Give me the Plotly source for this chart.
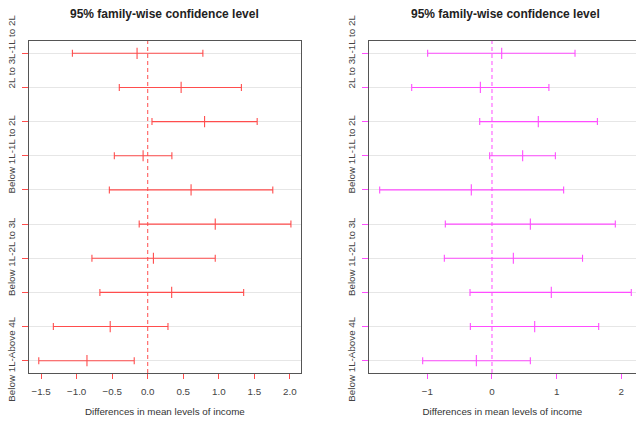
import plotly.graph_objects as go

categories = [
    "2L to 3L-1L to 2L", "3L to 4L-1L to 2L", "Above 4L-1L to 2L", "Below 1L-1L to 2L",
    "3L to 4L-2L to 3L", "Above 4L-2L to 3L", "Below 1L-2L to 3L", "Above 4L-3L to 4L",
    "Below 1L-3L to 4L", "Below 1L-Above 4L",
]
shown_labels = ["2L to 3L-1L to 2L", "Below 1L-1L to 2L", "Below 1L-2L to 3L", "Below 1L-Above 4L"]

left_diff = [-0.15, 0.47, 0.80, -0.065, 0.61, 0.95, 0.08, 0.337, -0.528, -0.855]
left_lwr = [-1.06, -0.40, 0.06, -0.47, -0.54, -0.12, -0.785, -0.673, -1.328, -1.533]
left_upr = [0.776, 1.318, 1.54, 0.34, 1.76, 2.015, 0.95, 1.35, 0.285, -0.19]

right_diff = [0.15, -0.18, 0.716, 0.474, -0.32, 0.593, 0.33, 0.917, 0.66, -0.242]
right_lwr = [-0.995, -1.242, -0.19, -0.036, -1.737, -0.722, -0.737, -0.34, -0.335, -1.072]
right_upr = [1.284, 0.88, 1.63, 0.98, 1.108, 1.907, 1.40, 2.154, 1.65, 0.593]

left_ticks = [-1.5, -1.0, -0.5, 0.0, 0.5, 1.0, 1.5, 2.0]
right_ticks = [-1, 0, 1, 2]

RED = "#ff4d4d"
MAG = "#ff4dff"
FONT = "Liberation Sans, Arial, sans-serif"
AX = 9.8

fig = go.Figure()

def add_panel(diff, lwr, upr, color, xa, ya):
    plus = [u - d for u, d in zip(upr, diff)]
    minus = [d - l for d, l in zip(diff, lwr)]
    fig.add_trace(go.Scatter(
        x=diff, y=categories, mode="markers", xaxis=xa, yaxis=ya,
        marker=dict(symbol="line-ns", size=8, line=dict(color=color, width=1.1), color=color),
        error_x=dict(type="data", array=plus, arrayminus=minus, color=color, thickness=1.1, width=3.5),
        showlegend=False, hoverinfo="skip",
    ))

add_panel(left_diff, left_lwr, left_upr, RED, "x", "y")
add_panel(right_diff, right_lwr, right_upr, MAG, "x2", "y2")

ticktext = [c if c in shown_labels else "" for c in categories]

yax_common = dict(
    type="category", categoryorder="array", categoryarray=categories,
    range=[9.36, -0.36], tickmode="array", tickvals=categories, ticktext=ticktext,
    tickangle=-90, showgrid=True, gridcolor="#e6e6e6", gridwidth=1,
    showline=True, linecolor="#555555", linewidth=1.2, zeroline=False,
    ticks="outside", ticklen=6, tickfont=dict(family=FONT, size=AX, color="#444444"),
    ticklabelstandoff=3,
)
xax_common = dict(
    showgrid=False, zeroline=False, showline=True, linecolor="#555555", linewidth=1.2,
    ticks="outside", ticklen=5, tickfont=dict(family=FONT, size=AX, color="#444444"),
    ticklabelstandoff=4,
    title=dict(text="Differences in mean levels of income", font=dict(family=FONT, size=AX, color="#333333"), standoff=12),
)

fig.update_layout(
    width=636, height=422, plot_bgcolor="white", paper_bgcolor="white",
    margin=dict(l=0, r=0, t=41, b=49),
    xaxis=dict(domain=[0.0451, 0.4733], range=[-1.675, 2.157], tickvals=left_ticks, tickformat=".1f",
               mirror=True, tickcolor=RED, anchor="y", **xax_common),
    yaxis=dict(domain=[0, 1], anchor="x", mirror=True, tickcolor=RED, **yax_common),
    xaxis2=dict(domain=[0.5797, 1.0], range=[-1.907, 2.227], tickvals=right_ticks, tickformat="d",
                mirror=True, tickcolor=MAG, anchor="y2", **xax_common),
    yaxis2=dict(domain=[0, 1], anchor="x2", mirror=False, tickcolor=MAG, **yax_common),
    shapes=[
        dict(type="line", xref="x", yref="y domain", x0=0, x1=0, y0=0, y1=1,
             line=dict(color=RED, width=1, dash="4px,3px")),
        dict(type="line", xref="x2", yref="y2 domain", x0=0, x1=0, y0=0, y1=1,
             line=dict(color=MAG, width=1, dash="4px,3px")),
    ],
    annotations=[
        dict(text="<b>95% family-wise confidence level</b>", xref="paper", yref="paper",
             x=164.9 / 636, y=1, yshift=27, showarrow=False, xanchor="center", yanchor="middle",
             font=dict(family=FONT, size=12, color="#222222")),
        dict(text="<b>95% family-wise confidence level</b>", xref="paper", yref="paper",
             x=505 / 636, y=1, yshift=27, showarrow=False, xanchor="center", yanchor="middle",
             font=dict(family=FONT, size=12, color="#222222")),
    ],
)

fig.write_html("out.html")
